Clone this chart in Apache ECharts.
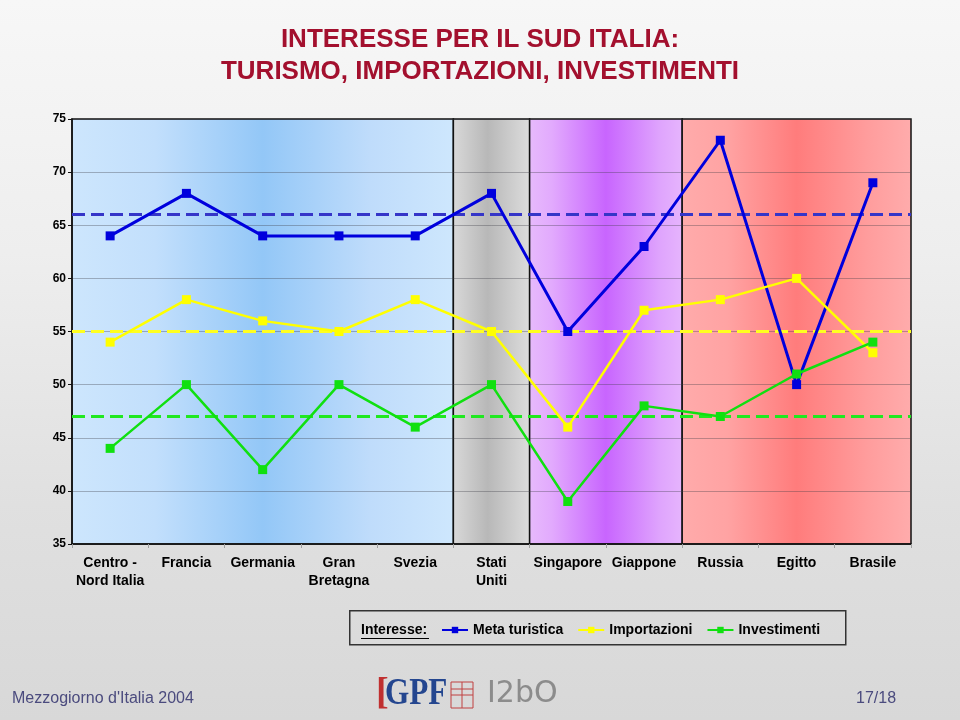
<!DOCTYPE html>
<html>
<head>
<meta charset="utf-8">
<script src="https://cdn.jsdelivr.net/npm/echarts@6/dist/echarts.min.js"></script>
<style>
  html, body { margin: 0; padding: 0; }
  #chart { width: 960px; height: 720px;
    background: linear-gradient(to bottom, #f7f7f7 0%, #eeeeee 35%, #e0e0e0 70%, #d8d8d8 100%); }
</style>
</head>
<body>
<div id="chart"></div>
<script>
const categories = ['Centro -\nNord Italia', 'Francia', 'Germania', 'Gran\nBretagna', 'Svezia', 'Stati\nUniti', 'Singapore', 'Giappone', 'Russia', 'Egitto', 'Brasile'];
const seriesNames = ['Meta turistica', 'Importazioni', 'Investimenti'];
const metaTuristica = [64, 68, 64, 64, 64, 68, 55, 63, 73, 50, 69];
const importazioni = [54, 58, 56, 55, 58, 55, 46, 57, 58, 60, 53];
const investimenti = [44, 50, 42, 50, 46, 50, 39, 48, 47, 51, 54];
const riferimenti = [66, 55, 47];
const yMin = 35, yMax = 75, yStep = 5;
// category index ranges of the shaded groups (Europe, USA, Asia, emerging)
const groupStart = [0, 5, 6, 8];
const groupEnd = [5, 6, 8, 11];

const FONT = '"Liberation Sans", Arial, sans-serif';
const lineColors = ['#0000dd', '#ffff00', '#10e010'];
const dashColors = ['#3535c8', '#ffff20', '#20e820'];
const groupGradients = [
  [[0, '#cde6fd'], [0.22, '#c2dffc'], [0.5, '#93c7f7'], [0.78, '#bfdcfb'], [1, '#cee7fd']],
  [[0, '#d9d9d9'], [0.45, '#b8b8b8'], [1, '#dddddd']],
  [[0, '#e7bafc'], [0.15, '#e2aafd'], [0.5, '#c865fe'], [0.85, '#dfa4fd'], [1, '#e6b5fd']],
  [[0, '#ffabab'], [0.2, '#ffa3a3'], [0.5, '#ff7c7c'], [0.8, '#ff9c9c'], [1, '#ffacac']]
];

const chart = echarts.init(document.getElementById('chart'), null, { renderer: 'canvas' });

function makeLine(i, data) {
  return {
    name: seriesNames[i], type: 'line', data: data,
    xAxisIndex: 0, yAxisIndex: 0, z: 5 + i,
    symbol: 'rect', symbolSize: 9,
    itemStyle: { color: lineColors[i] },
    lineStyle: { color: lineColors[i], width: i === 0 ? 3 : 2.5 },
    emphasis: { disabled: true },
    markLine: {
      silent: true, symbol: 'none', label: { show: false },
      lineStyle: { color: dashColors[i], width: 3, type: [13, 6] },
      data: [{ yAxis: riferimenti[i] }]
    }
  };
}

const option = {
  animation: false,
  grid: { left: 72, right: 49, top: 119, bottom: 176, containLabel: false },
  legend: {
    data: seriesNames,
    left: 441, top: 623, padding: 0,
    itemWidth: 26, itemHeight: 8, itemGap: 14,
    textStyle: { fontFamily: FONT, fontSize: 14, fontWeight: 'bold', color: '#000' },
    selectedMode: false
  },
  xAxis: [
    {
      type: 'category', data: categories, boundaryGap: true, z: 4,
      axisLine: { show: true, lineStyle: { color: '#111', width: 1.5 } },
      axisTick: { show: true, length: 4, lineStyle: { color: '#a0a0a0' } },
      axisLabel: { interval: 0, margin: 10, fontFamily: FONT, fontSize: 14, fontWeight: 'bold', color: '#000', lineHeight: 18 }
    },
    { type: 'value', min: 0, max: categories.length, show: false }
  ],
  yAxis: {
    type: 'value', min: yMin, max: yMax, interval: yStep, z: 3,
    axisLine: { show: true, lineStyle: { color: '#111', width: 1.5 } },
    axisTick: { show: true, length: 4, lineStyle: { color: '#111' } },
    axisLabel: { margin: 6, fontFamily: FONT, fontSize: 12, fontWeight: 'bold', color: '#000' },
    splitLine: { show: true, lineStyle: { color: 'rgba(60,60,70,0.35)', width: 1 } }
  },
  series: [
    {
      type: 'custom', xAxisIndex: 1, yAxisIndex: 0, z: 1, silent: true,
      data: groupStart.map((s, i) => [s, groupEnd[i]]),
      encode: { x: [0, 1] },
      renderItem: function (params, api) {
        const p1 = api.coord([api.value(0), yMax]);
        const p2 = api.coord([api.value(1), yMin]);
        const stops = groupGradients[params.dataIndex].map(s => ({ offset: s[0], color: s[1] }));
        return {
          type: 'rect',
          shape: { x: p1[0], y: p1[1], width: p2[0] - p1[0], height: p2[1] - p1[1] },
          style: {
            fill: new echarts.graphic.LinearGradient(0, 0, 1, 0, stops),
            stroke: '#111', lineWidth: 1.5
          }
        };
      }
    },
    makeLine(0, metaTuristica),
    makeLine(1, importazioni),
    makeLine(2, investimenti)
  ],
  graphic: [
    { type: 'text', x: 480, y: 24,
      style: { text: 'INTERESSE PER IL SUD ITALIA:\nTURISMO, IMPORTAZIONI, INVESTIMENTI',
        align: 'center', verticalAlign: 'top', lineHeight: 32,
        font: 'bold 26px ' + FONT, fill: '#a3102e' } },
    { type: 'rect', left: 349, top: 610, z: 0,
      shape: { width: 496, height: 34 },
      style: { fill: 'rgba(0,0,0,0)', stroke: '#333', lineWidth: 1.5 } },
    { type: 'text', left: 361, top: 623,
      style: { text: 'Interesse:', font: 'bold 14px ' + FONT, fill: '#000' } },
    { type: 'line', shape: { x1: 361, y1: 638.5, x2: 429, y2: 638.5 },
      style: { stroke: '#000', lineWidth: 1 } },
    { type: 'text', left: 12, top: 691,
      style: { text: "Mezzogiorno d'Italia 2004", font: '16px ' + FONT, fill: '#4b4b7e' } },
    { type: 'text', left: 856, top: 691,
      style: { text: '17/18', font: '16px ' + FONT, fill: '#4b4b7e' } },
    { type: 'text', left: 376, top: 675,
      style: { text: '[', font: 'bold 38px "Liberation Serif", serif', fill: '#c03030' } },
    { type: 'text', left: 385, top: 675, scaleX: 0.82,
      style: { text: 'GPF', font: 'bold 38px "Liberation Serif", serif', fill: '#24468f' } },
    { type: 'rect', shape: { x: 451, y: 682, width: 22, height: 26 },
      style: { fill: 'none', stroke: '#c04040', lineWidth: 1 } },
    { type: 'line', shape: { x1: 462, y1: 682, x2: 462, y2: 708 }, style: { stroke: '#c04040', lineWidth: 1 } },
    { type: 'line', shape: { x1: 451, y1: 695, x2: 473, y2: 695 }, style: { stroke: '#c04040', lineWidth: 1 } },
    { type: 'line', shape: { x1: 451, y1: 689, x2: 473, y2: 689 }, style: { stroke: '#c04040', lineWidth: 1 } },
    { type: 'text', left: 487, top: 679,
      style: { text: 'I2bO', font: '30px "DejaVu Sans", sans-serif', fill: '#8c8c8c' } }
  ]
};
chart.setOption(option);
</script>
</body>
</html>
